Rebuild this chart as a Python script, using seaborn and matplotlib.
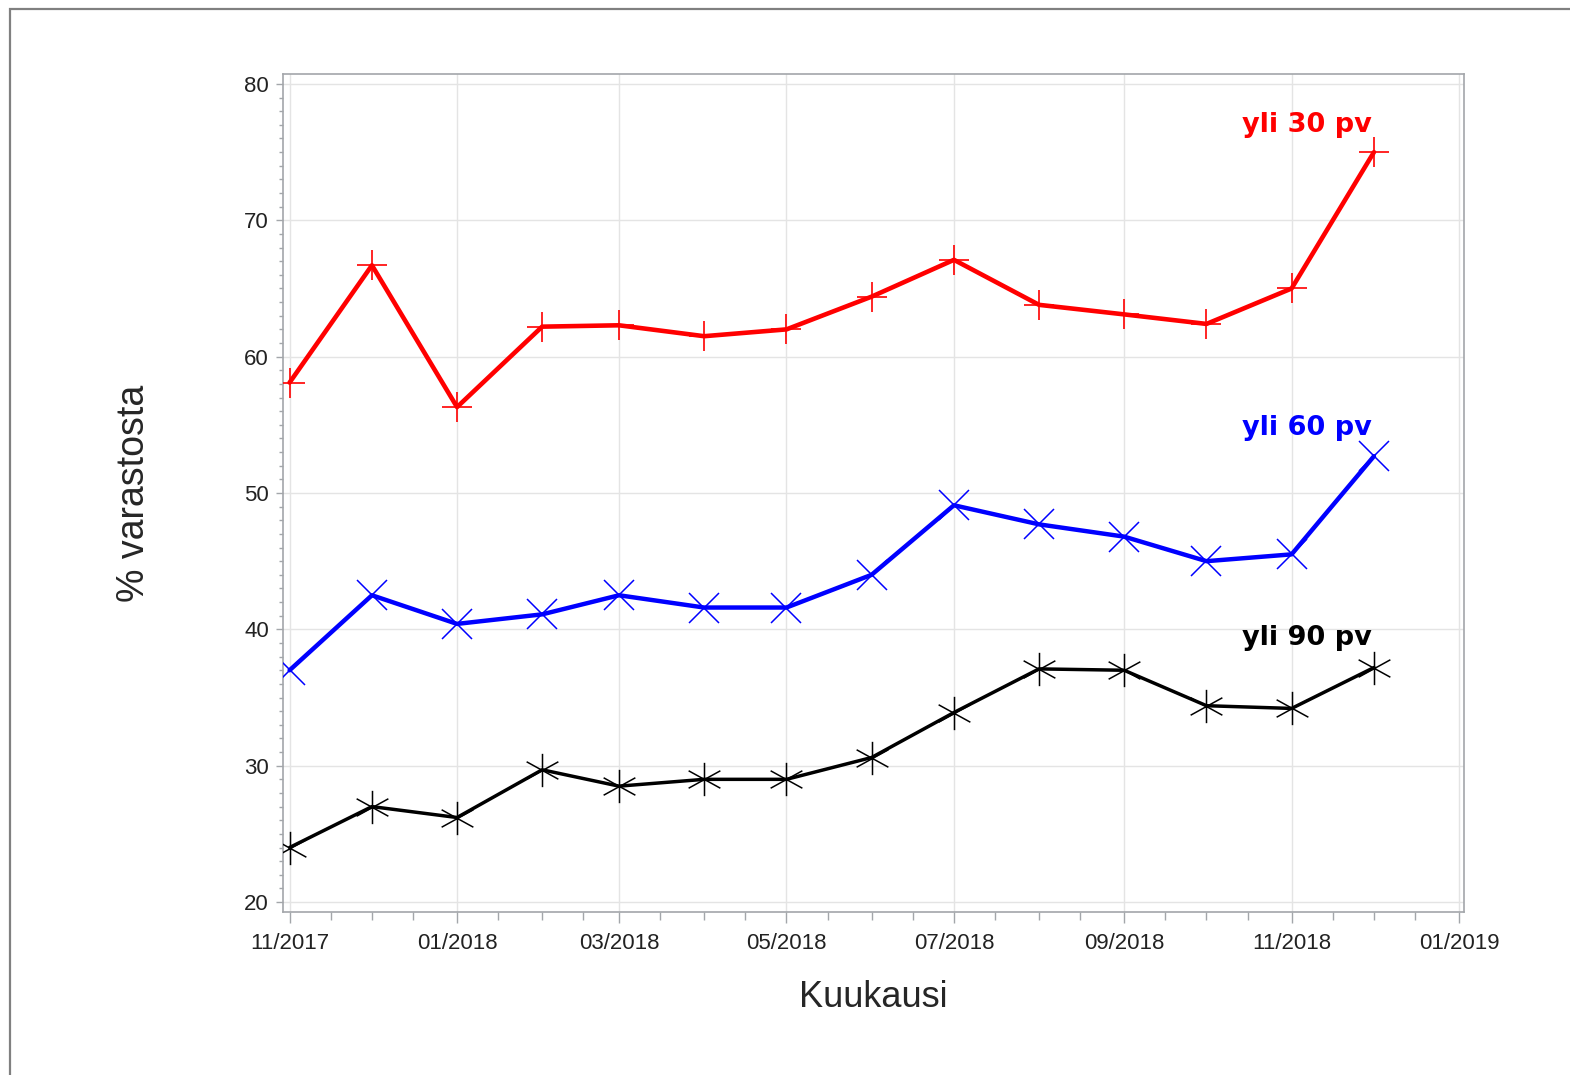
import matplotlib
matplotlib.use("Agg")
import matplotlib.pyplot as plt
import matplotlib.dates as mdates
from matplotlib.path import Path
from matplotlib.patches import Rectangle
import seaborn as sns
import pandas as pd

# monthly values
months = ["2017-11", "2017-12", "2018-01", "2018-02", "2018-03", "2018-04", "2018-05",
          "2018-06", "2018-07", "2018-08", "2018-09", "2018-10", "2018-11", "2018-12"]
yli_30 = [58.1, 66.7, 56.3, 62.2, 62.3, 61.5, 62.0, 64.4, 67.1, 63.8, 63.1, 62.4, 65.0, 75.0]
yli_60 = [37.0, 42.5, 40.4, 41.1, 42.5, 41.6, 41.6, 44.0, 49.1, 47.7, 46.8, 45.0, 45.5, 52.7]
yli_90 = [24.0, 27.0, 26.2, 29.7, 28.5, 29.0, 29.0, 30.6, 33.9, 37.1, 37.0, 34.4, 34.2, 37.2]
labels = ["yli 30 pv", "yli 60 pv", "yli 90 pv"]

dates = pd.to_datetime(months)

sns.set_style("white")
plt.rcParams["font.family"] = ["Liberation Sans", "DejaVu Sans"]

# six-armed star like the SAS marker
star = Path([(-1, -0.55), (1, 0.55), (-1, 0.55), (1, -0.55), (0, -1.05), (0, 1.05)],
            [Path.MOVETO, Path.LINETO, Path.MOVETO, Path.LINETO, Path.MOVETO, Path.LINETO])

fig = plt.figure(figsize=(15.7, 10.75), dpi=100)
ax = fig.add_axes([283 / 1570, 1 - 912 / 1075, 1181 / 1570, 838 / 1075])

series = [
    (yli_30, "#ff0000", "+", 3.3, 22, 1.2),
    (yli_60, "#0000ff", "x", 3.2, 22, 1.1),
    (yli_90, "#000000", star, 2.5, 24, 1.1),
]
for vals, color, mk, lw, ms, mew in series:
    df = pd.DataFrame({"month": dates, "pct": vals})
    sns.lineplot(data=df, x="month", y="pct", color=color, lw=lw, marker=mk,
                 markersize=ms, markeredgewidth=mew, markeredgecolor=color,
                 legend=False, ax=ax, zorder=3)

# series labels
label_y = [77.0, 54.8, 39.4]
label_c = ["#ff0000", "#0000ff", "#000000"]
for txt, yy, cc in zip(labels, label_y, label_c):
    ax.text(pd.Timestamp("2018-10-14"), yy, txt, color=cc, fontsize=19.5,
            fontweight="bold", family="DejaVu Sans", ha="left", va="center")

# axes ranges and ticks
ax.set_xlim(pd.Timestamp("2017-11-01") - pd.Timedelta(days=2.4),
            pd.Timestamp("2019-01-01") + pd.Timedelta(days=1.8))
ax.set_ylim(19.27, 80.73)
ax.xaxis.set_major_locator(mdates.MonthLocator(bymonth=[1, 3, 5, 7, 9, 11]))
ax.xaxis.set_minor_locator(mdates.DayLocator(bymonthday=[1, 16]))
ax.xaxis.set_major_formatter(mdates.DateFormatter("%m/%Y"))
ax.set_yticks([20, 30, 40, 50, 60, 70, 80])
ax.set_yticks(range(20, 81), minor=True)

spine_c = "#a3a6aa"
for s in ax.spines.values():
    s.set_color(spine_c)
    s.set_linewidth(1.2)
ax.grid(True, which="major", color="#e4e4e4", lw=1.0, zorder=0)
ax.set_axisbelow(True)
ax.tick_params(which="both", bottom=True, left=True, top=False, right=False,
               direction="out")
ax.tick_params(axis="x", which="major", length=8, width=1, color=spine_c,
               labelsize=16, pad=7, labelcolor="#222222")
ax.tick_params(axis="x", which="minor", length=5.5, width=1, color=spine_c)
ax.tick_params(axis="y", which="major", length=5, width=1, color=spine_c,
               labelsize=16, pad=5, labelcolor="#222222")
ax.tick_params(axis="y", which="minor", length=3, width=1, color=spine_c)

ax.set_xlabel("Kuukausi", fontsize=26)
ax.set_ylabel("% varastosta", fontsize=27)
ax.xaxis.set_label_coords(0.5, -0.1026)
ax.xaxis.label.set_va("center")
ax.yaxis.set_label_coords(-0.126, 0.5)
ax.yaxis.label.set_va("center")

# outer frame of the graph area
fig.patches.append(Rectangle((10 / 1570, -0.1), 1.2, 1 - 9 / 1075 + 0.1,
                             transform=fig.transFigure, fill=False,
                             edgecolor="#808080", lw=1.6, zorder=-1))

fig.savefig("out.png", dpi=100)
